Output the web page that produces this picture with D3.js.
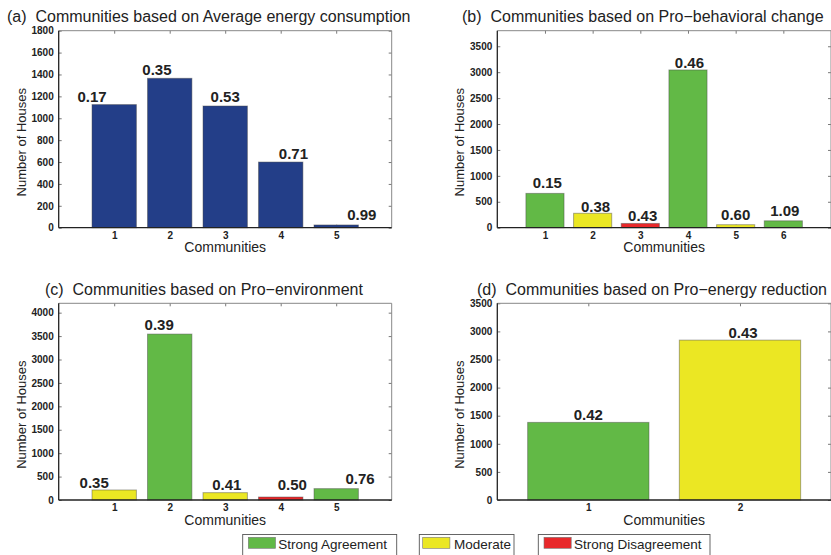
<!DOCTYPE html>
<html>
<head>
<meta charset="utf-8">
<script src="https://cdn.jsdelivr.net/npm/d3@7"></script>
<style>
  body { margin: 0; background: #fff; }
  svg { display: block; font-family: "Liberation Sans", Arial, Helvetica, sans-serif; }
</style>
</head>
<body>
<div id="chart"></div>
<script>

// ---- data ----
const titles = [
    "(a)  Communities based on Average energy consumption",
    "(b)  Communities based on Pro\u2212behavioral change",
    "(c)  Communities based on Pro\u2212environment",
    "(d)  Communities based on Pro\u2212energy reduction"
];

// (a) average energy consumption
const communitiesA = [1, 2, 3, 4, 5];
const housesA = [1125, 1365, 1112, 600, 25];
const scoresA = ["0.17", "0.35", "0.53", "0.71", "0.99"];
const groupsA = ["energy", "energy", "energy", "energy", "energy"];
const labelXA = [0.6, 1.77, 3.0, 4.23, 5.46];
const labelYA = [1150, 1395, 1150, 625, 70];

// (b) pro-behavioral change
const communitiesB = [1, 2, 3, 4, 5, 6];
const housesB = [662, 278, 82, 3043, 58, 133];
const scoresB = ["0.15", "0.38", "0.43", "0.46", "0.60", "1.09"];
const groupsB = ["agree", "moderate", "disagree", "agree", "moderate", "agree"];
const labelXB = [1.05, 2.06, 3.05, 4.03, 5.0, 6.03];
const labelYB = [760, 309, 135, 3075, 149, 231];

// (c) pro-environment
const communitiesC = [1, 2, 3, 4, 5];
const housesC = [214, 3543, 157, 64, 243];
const scoresC = ["0.35", "0.39", "0.41", "0.50", "0.76"];
const groupsC = ["moderate", "agree", "moderate", "disagree", "agree"];
const labelXC = [0.64, 1.81, 3.03, 4.21, 5.43];
const labelYC = [251, 3628, 214, 214, 343];

// (d) pro-energy reduction
const communitiesD = [1, 2];
const housesD = [1381, 2845];
const scoresD = ["0.42", "0.43"];
const groupsD = ["agree", "moderate"];
const labelXD = [1.0, 2.02];
const labelYD = [1429, 2887];

// axis limits and tick steps
const xLimits = [[0, 6], [0, 7], [0, 6], [0.4, 2.6]];
const yLimits = [[0, 1800], [0, 3800], [0, 4200], [0, 3500]];
const yTickMax = [1800, 3500, 4000, 3500];
const yTickStep = [200, 500, 500, 500];

const legendKeys = ["agree", "moderate", "disagree"];
const legendLabels = ["Strong Agreement", "Moderate", "Strong Disagreement"];

const colors = {
    energy: "#233e88",
    agree: "#62b946",
    moderate: "#ebe723",
    disagree: "#e8282a"
};

// ---- layout ----
const W = 831, H = 555;
const boxes = [
    { left: 58.7, right: 391.7, top: 30.7, bottom: 227.7, titleX: 7, titleY: 21.7 },
    { left: 497.3, right: 831, top: 30.7, bottom: 227.7, titleX: 462, titleY: 21.7 },
    { left: 58.7, right: 391.7, top: 303.3, bottom: 500, titleX: 45, titleY: 295 },
    { left: 497.3, right: 831, top: 303.3, bottom: 500, titleX: 477, titleY: 295 }
];
const legendBoxes = [
    { x: 242.7, w: 154, sw: 5.6, tx: 35.6 },
    { x: 419.3, w: 94.7, sw: 3.4, tx: 34.7 },
    { x: 538.3, w: 171.7, sw: 5.7, tx: 35.7 }
];

const svg = d3.select("#chart").append("svg")
    .attr("width", W)
    .attr("height", H);

const panels = [
    { c: communitiesA, v: housesA, s: scoresA, g: groupsA, lx: labelXA, ly: labelYA },
    { c: communitiesB, v: housesB, s: scoresB, g: groupsB, lx: labelXB, ly: labelYB },
    { c: communitiesC, v: housesC, s: scoresC, g: groupsC, lx: labelXC, ly: labelYC },
    { c: communitiesD, v: housesD, s: scoresD, g: groupsD, lx: labelXD, ly: labelYD }
];

panels.forEach((p, i) => drawPanel(p, i));

function drawPanel(p, i) {
    let b = boxes[i];
    let g = svg.append("g");

    let x = d3.scaleLinear().domain(xLimits[i]).range([b.left, b.right]);
    let y = d3.scaleLinear().domain(yLimits[i]).range([b.bottom, b.top]);
    let yTicks = d3.range(0, yTickMax[i] + 1, yTickStep[i]);

    // tick marks (inward, mirrored on top / right)
    let yAxis = d3.axisLeft(y).tickValues(yTicks).tickSizeInner(-3).tickSizeOuter(0)
        .tickPadding(5).tickFormat(d3.format("d"));
    let yAxisR = d3.axisRight(y).tickValues(yTicks).tickSizeInner(-3).tickSizeOuter(0).tickFormat("");
    let xAxis = d3.axisBottom(x).tickValues(p.c).tickSizeInner(-3).tickSizeOuter(0)
        .tickPadding(3.8).tickFormat(d3.format("d"));
    let xAxisT = d3.axisTop(x).tickValues(p.c).tickSizeInner(-3).tickSizeOuter(0).tickFormat("");

    let ay = g.append("g").attr("transform", "translate(" + b.left + ",0)").call(yAxis);
    let ayr = g.append("g").attr("transform", "translate(" + b.right + ",0)").call(yAxisR);
    let ax = g.append("g").attr("transform", "translate(0," + b.bottom + ")").call(xAxis);
    let axt = g.append("g").attr("transform", "translate(0," + b.top + ")").call(xAxisT);

    [ay, ayr, ax, axt].forEach(a => {
        a.select(".domain").remove();
        a.selectAll(".tick line").attr("stroke", "#555").attr("stroke-width", 0.8);
        a.selectAll("text")
            .attr("font-size", "10px")
            .attr("font-weight", "bold")
            .attr("font-family", "\"Liberation Sans\", Arial, sans-serif")
            .attr("fill", "#222");
    });

    // bars
    g.selectAll(".bar")
        .data(p.c)
        .enter()
        .append("rect")
        .attr("class", "bar")
        .attr("x", (d) => x(d - 0.4))
        .attr("width", (d) => x(d + 0.4) - x(d - 0.4))
        .attr("y", (d, j) => y(p.v[j]))
        .attr("height", (d, j) => y(0) - y(p.v[j]))
        .attr("fill", (d, j) => colors[p.g[j]])
        .attr("stroke", "rgba(70,70,70,0.45)")
        .attr("stroke-width", 1);

    // value labels
    g.selectAll(".val")
        .data(p.s)
        .enter()
        .append("text")
        .attr("class", "val")
        .attr("x", (d, j) => x(p.lx[j]))
        .attr("y", (d, j) => y(p.ly[j]))
        .attr("text-anchor", "middle")
        .attr("font-size", "15px")
        .attr("font-weight", "bold")
        .attr("fill", "#222")
        .text(d => d);

    // axes box
    g.append("line").attr("x1", b.left).attr("x2", b.right).attr("y1", b.top).attr("y2", b.top)
        .attr("stroke", "#888").attr("stroke-width", 1);
    g.append("line").attr("x1", b.right).attr("x2", b.right).attr("y1", b.top).attr("y2", b.bottom)
        .attr("stroke", "#888").attr("stroke-width", 1);
    g.append("line").attr("x1", b.left).attr("x2", b.left).attr("y1", b.top).attr("y2", b.bottom)
        .attr("stroke", "#222").attr("stroke-width", 1.3);
    g.append("line").attr("x1", b.left).attr("x2", b.right).attr("y1", b.bottom).attr("y2", b.bottom)
        .attr("stroke", "#222").attr("stroke-width", 1.3);

    // title and axis labels
    g.append("text")
        .attr("x", b.titleX)
        .attr("y", b.titleY)
        .attr("font-size", "16px")
        .attr("fill", "#222")
        .attr("xml:space", "preserve")
        .style("white-space", "pre")
        .text(titles[i]);

    g.append("text")
        .attr("x", (b.left + b.right) / 2)
        .attr("y", b.bottom + 24.5)
        .attr("text-anchor", "middle")
        .attr("font-size", "14px")
        .attr("fill", "#222")
        .text("Communities");

    let cy = (b.top + b.bottom) / 2 + 13;
    g.append("text")
        .attr("transform", "translate(" + (b.left - 33) + "," + cy + ") rotate(-90)")
        .attr("text-anchor", "middle")
        .attr("font-size", "13px")
        .attr("fill", "#222")
        .text("Number of Houses");
}

// ---- legend ----
let legend = svg.append("g");
legendKeys.forEach((k, i) => {
    let lb = legendBoxes[i];
    legend.append("rect")
        .attr("x", lb.x)
        .attr("y", 534.5)
        .attr("width", lb.w)
        .attr("height", 30)
        .attr("fill", "#fff")
        .attr("stroke", "#555")
        .attr("stroke-width", 0.9);
    legend.append("rect")
        .attr("x", lb.x + lb.sw)
        .attr("y", 537.3)
        .attr("width", 27.2)
        .attr("height", 11)
        .attr("fill", colors[k])
        .attr("stroke", "#777")
        .attr("stroke-width", 0.6);
    legend.append("text")
        .attr("x", lb.x + lb.tx)
        .attr("y", 548.5)
        .attr("font-size", "13.5px")
        .attr("fill", "#222")
        .text(legendLabels[i]);
});

</script>
</body>
</html>
